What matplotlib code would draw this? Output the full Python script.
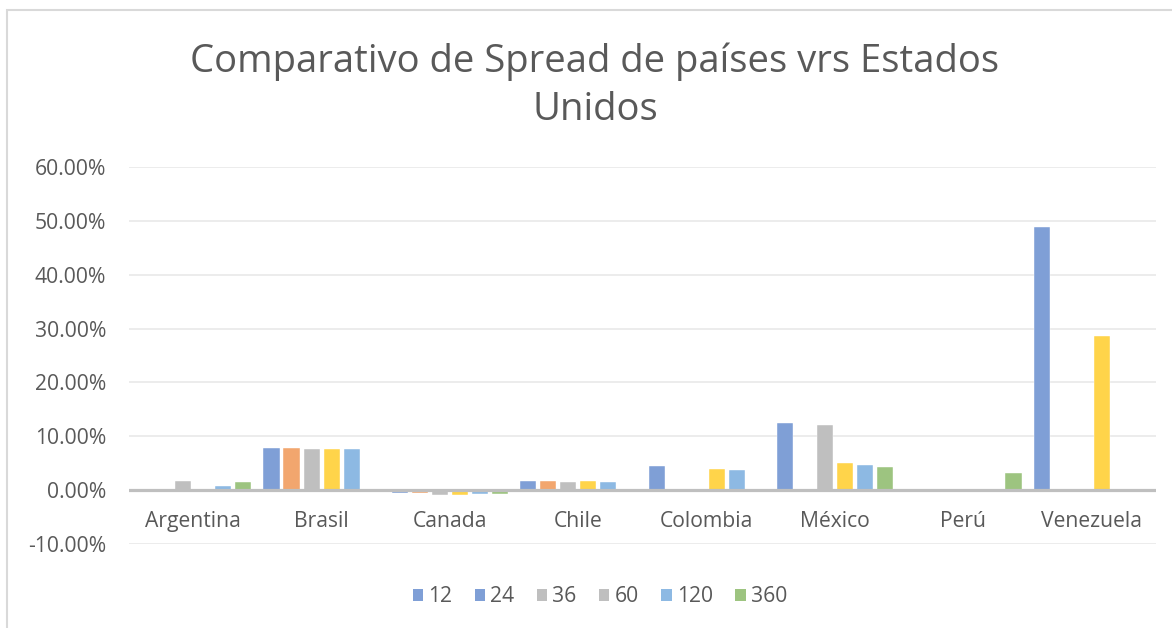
import matplotlib
matplotlib.use("Agg")
import matplotlib.pyplot as plt
from matplotlib.patches import Patch, Rectangle
from matplotlib.ticker import FuncFormatter
import numpy as np

# ---------------- data ----------------
countries = ["Argentina", "Brasil", "Canada", "Chile", "Colombia", "México", "Perú", "Venezuela"]
series_labels = ["12", "24", "36", "60", "120", "360"]

s12  = [0.00, 7.80, -0.50, 1.75, 4.45, 12.40, 0.00, 48.85]
s24  = [0.00, 7.75, -0.60, 1.65, 0.00, 0.00, 0.00, 0.00]
s36  = [1.75, 7.60, -0.85, 1.45, 0.00, 12.15, 0.00, 0.00]
s60  = [0.00, 7.60, -0.90, 1.70, 3.95, 5.10, 0.00, 28.55]
s120 = [0.70, 7.55, -0.80, 1.55, 3.80, 4.75, 0.00, 0.00]
s360 = [1.55, 0.00, -0.80, 0.00, 0.00, 4.35, 3.12, 0.00]
series_values = [s12, s24, s36, s60, s120, s360]

bar_colors = ["#7F9FD6", "#F2A66E", "#BFBFBF", "#FFD44A", "#8DB9E3", "#9DC480"]
legend_colors = ["#7F9FD6", "#7F9FD6", "#BFBFBF", "#BFBFBF", "#8DB9E3", "#9DC480"]

yticks = [-10, 0, 10, 20, 30, 40, 50, 60]
title = "Comparativo de Spread de países vrs Estados\nUnidos"

# ---------------- style ----------------
FONT = "Open Sans"
TXT = "#595959"
FS = 15.2
plt.rcParams["font.family"] = [FONT, "DejaVu Sans"]

W, H = 1172, 628
fig = plt.figure(figsize=(W / 100, H / 100), dpi=100)
fig.patch.set_facecolor("white")

# chart border (top & left visible)
fig.patches.append(Rectangle((7 / W, -0.1), 1.2, (H - 10) / H + 0.1, transform=fig.transFigure,
                             fill=False, edgecolor="#D9D9D9", linewidth=1.5, zorder=0))

ax = fig.add_axes([129 / W, (H - 544) / H, (1156 - 129) / W, (544 - 167) / H])

x = np.arange(len(countries))
pitch = 0.156
width = 0.125
n = len(series_values)
for i, (vals, col) in enumerate(zip(series_values, bar_colors)):
    offs = (i - (n - 1) / 2) * pitch
    ax.bar(x + offs, vals, width=width, color=col, edgecolor="white", linewidth=0.3, zorder=3)

ax.set_xlim(-0.5, len(countries) - 0.5)
ax.set_ylim(-10, 60)
ax.set_yticks(yticks)
ax.yaxis.set_major_formatter(FuncFormatter(lambda v, p: f"{v:.2f}%"))
ax.tick_params(axis="y", length=0, pad=16.5, labelsize=FS, labelcolor=TXT)
ax.set_xticks([])
ax.grid(axis="y", color="#EBEBEB", linewidth=1.3, zorder=0)
for s in ax.spines.values():
    s.set_visible(False)
ax.axhline(0, color="#BFBFBF", linewidth=2.3, zorder=4)

for xi, name in zip(x, countries):
    ax.annotate(name, (xi, 0), xytext=(0, -31), textcoords="offset pixels",
                ha="center", va="center", fontsize=FS, color=TXT)

fig.text(595 / W, (H - 62) / H, title.split("\n")[0], ha="center", va="center", fontsize=27.5,
         color=TXT)
fig.text(595 / W, (H - 110) / H, title.split("\n")[1], ha="center", va="center", fontsize=27.5,
         color=TXT)

handles = [Patch(facecolor=c, edgecolor="none", label=l) for c, l in zip(legend_colors, series_labels)]
fig.legend(handles=handles, loc="center", bbox_to_anchor=(600 / W, (H - 597) / H), ncol=6,
           frameon=False, fontsize=FS, labelcolor=TXT, handlelength=0.5, handleheight=0.5,
           handletextpad=0.25, columnspacing=1.05)

fig.savefig("out.png", dpi=100, facecolor="white")
